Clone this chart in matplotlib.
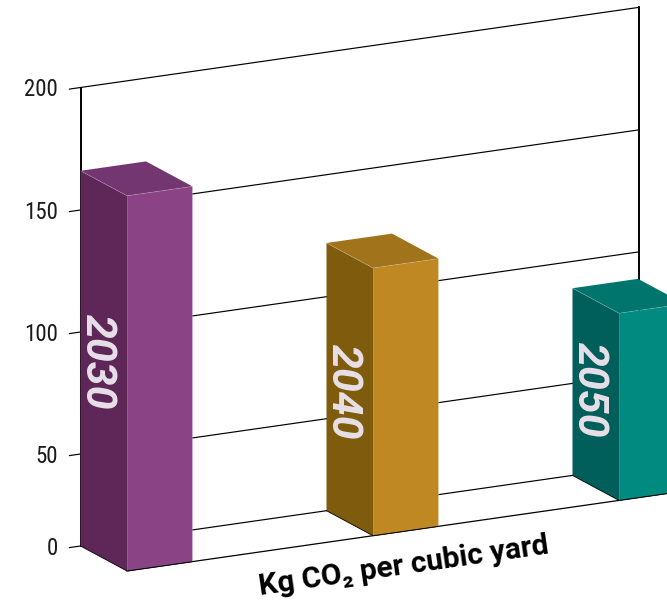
import numpy as np
import matplotlib
matplotlib.use('Agg')
import matplotlib.pyplot as plt

# Data
years = ['2030', '2040', '2050']
values = [166, 122, 89]
y_ticks = [0, 50, 100, 150, 200]
front_colors = ['#8A4486', '#BF8823', '#008A80']
side_colors = ['#5E2758', '#7F5C0D', '#005F5A']
top_colors = ['#743671', '#A1731A', '#00756D']

# Oblique projection of the fake 3D chart, all in pixels
y_tick_px = [546, 454, 332, 210, 87.5]  # the 0 to 50 step is shorter on the original
x0 = 80.5
x_step = 246
wall_width = 558.5
slope = -0.1435
depth_dx, depth_dy = 46.5, 25
bar_width = 65.5
label_cy = [362, 392, 390]  # year labels sit at uneven heights


def project(x, value, depth=0.0):
    # x is pixels along the wall, value is axis units, depth is 0 (wall) to 1 (front)
    px = x0 + x + depth * depth_dx
    py = np.interp(value, y_ticks, y_tick_px) + slope * x + depth * depth_dy
    return px, py


fig = plt.figure(figsize=(6.67, 6.01), dpi=100)
ax = fig.add_axes([0, 0, 1, 1])
ax.set_xlim(0, 667)
ax.set_ylim(601, 0)
ax.axis('off')

# Gridlines and ticks
for t in y_ticks:
    a = project(-11, t)
    b = project(wall_width, t)
    ax.plot([a[0], b[0]], [a[1], b[1]], color='black', lw=0.85, zorder=1)
    ax.text(58, a[1] + 0.5, str(t), ha='right', va='center', fontsize=16.5,
            family='Roboto Condensed', color='#1a1a1a')

# Wall verticals
for x in [0, wall_width]:
    a = project(x, 0)
    b = project(x, 200)
    ax.plot([a[0], b[0]], [a[1], b[1]], color='black', lw=1.4, zorder=1)

# Front floor line
a = project(0, 0, 1)
b = project(600, 0, 1)
ax.plot([a[0], b[0]], [a[1], b[1]], color='black', lw=0.9, zorder=1)

# Bars
for i, (year, v) in enumerate(zip(years, values)):
    x = i * x_step
    bl = project(x, 0)
    tl = project(x, v)
    f_b = project(x, 0, 1)
    f_t = project(x, v, 1)
    r_b = project(x + bar_width, 0, 1)
    r_t = project(x + bar_width, v, 1)
    back_t = project(x + bar_width, v)
    ax.fill([bl[0], tl[0], f_t[0], f_b[0]], [bl[1], tl[1], f_t[1], f_b[1]],
            color=side_colors[i], lw=0, zorder=3)
    ax.fill([f_b[0], f_t[0], r_t[0], r_b[0]], [f_b[1], f_t[1], r_t[1], r_b[1]],
            color=front_colors[i], lw=0, zorder=3)
    ax.fill([tl[0], back_t[0], r_t[0], f_t[0]], [tl[1], back_t[1], r_t[1], f_t[1]],
            color=top_colors[i], lw=0, zorder=3)
    # thin light edges
    ax.plot([tl[0], f_t[0], r_t[0], r_b[0]], [tl[1], f_t[1], r_t[1], r_b[1]],
            color='white', alpha=0.2, lw=0.6, zorder=4)
    ax.plot([f_t[0], f_b[0]], [f_t[1], f_b[1]], color='white', alpha=0.12, lw=0.6, zorder=4)
    ax.plot([bl[0], f_b[0], r_b[0]], [bl[1], f_b[1], r_b[1]], color='black', lw=0.6, zorder=4)
    # Year label on the side face
    ax.text(bl[0] + 21, label_cy[i], year, rotation=-90, ha='center', va='center_baseline',
            rotation_mode='anchor', fontsize=31, family='Roboto',
            style='italic', weight='bold', color='#E8E0E8', zorder=5)

# Axis title on the floor
ax.text(404, 566, 'Kg CO₂ per cubic yard', rotation=8.2, ha='center', va='center',
        rotation_mode='anchor', fontsize=21.5, family='Roboto', weight='bold',
        color='black', zorder=5)

fig.savefig('out.png', dpi=100)
